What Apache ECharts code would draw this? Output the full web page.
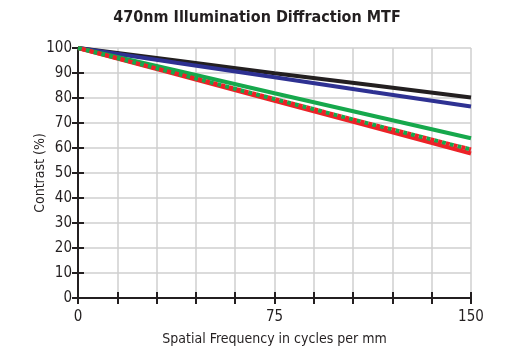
<!DOCTYPE html>
<html>
<head>
<meta charset="utf-8">
<script src="https://cdn.jsdelivr.net/npm/echarts@6/dist/echarts.min.js"></script>
<style>
  html, body { margin: 0; padding: 0; background: #fff; }
  #chart { width: 514px; height: 354px; }
</style>
</head>
<body>
<div id="chart"></div>
<script>
// spatial frequency samples (cycles per mm)
var freqs = [0, 37.5, 75, 112.5, 150];
// contrast values (%)
var blackLine = [100, 95, 89.9, 85.1, 80.2];
var blueLine = [100, 94.1, 88.3, 82.4, 76.6];
var greenLine = [100, 91, 81.9, 72.9, 63.9];
var redLine = [100, 89.5, 78.9, 68.4, 57.8];
var redDotted = [100, 89.8, 79.6, 69.4, 59.4];
var greenDotted = [100, 89.8, 79.6, 69.4, 59.4];
var xTickLabels = [0, 75, 150];

var font = "'DejaVu Sans Condensed', 'Liberation Sans Narrow', sans-serif";

function pairs(vals) {
  return freqs.map(function (f, i) { return [f, vals[i]]; });
}

(function(){
  var chartDom = document.getElementById('chart');
  var myChart = echarts.init(chartDom);
  var option;

  function lineSeries(name, vals, color, dash, offset) {
    return {
      name: name,
      type: 'line',
      data: pairs(vals),
      showSymbol: false,
      symbol: 'none',
      animation: false,
      lineStyle: {
        color: color,
        width: 4,
        type: dash || 'solid',
        dashOffset: offset || 0
      }
    };
  }

  option = {
    animation: false,
    title: {
      text: '470nm Illumination Diffraction MTF',
      left: 'center',
      top: 5,
      textStyle: {
        fontFamily: font,
        fontSize: 16,
        fontWeight: 'bold',
        color: '#231f20'
      }
    },
    grid: {
      left: 78,
      right: 43,
      top: 48,
      bottom: 56
    },
    xAxis: [
      {
        type: 'value',
        min: 0,
        max: 150,
        interval: 15,
        name: 'Spatial Frequency in cycles per mm',
        nameLocation: 'middle',
        nameGap: 34,
        nameMoveOverlap: false,
        nameTextStyle: { fontFamily: font, fontSize: 14, color: '#231f20' },
        axisLine: { show: true, lineStyle: { color: '#231f20', width: 2 } },
        axisTick: { show: true, inside: true, length: 6, lineStyle: { color: '#231f20', width: 2 } },
        axisLabel: {
          fontFamily: font,
          fontSize: 15,
          color: '#231f20',
          margin: 12,
          formatter: function (v) {
            return xTickLabels.indexOf(v) >= 0 ? String(v) : '';
          }
        },
        splitLine: { show: true, lineStyle: { color: '#cfcfcf', width: 1.5 } }
      },
      {
        type: 'value',
        position: 'top',
        min: 0,
        max: 150,
        interval: 15,
        axisLine: { show: true, lineStyle: { color: '#231f20', width: 2 } },
        axisTick: { show: true, inside: true, length: 6, lineStyle: { color: '#231f20', width: 2 } },
        axisLabel: { show: false },
        splitLine: { show: false }
      }
    ],
    yAxis: [
      {
        type: 'value',
        min: 0,
        max: 100,
        interval: 10,
        name: 'Contrast (%)',
        nameLocation: 'middle',
        nameGap: 31,
        nameMoveOverlap: false,
        nameTextStyle: { fontFamily: font, fontSize: 14, color: '#231f20' },
        axisLine: { show: true, lineStyle: { color: '#231f20', width: 2 } },
        axisTick: { show: true, inside: true, length: 6, lineStyle: { color: '#231f20', width: 2 } },
        axisLabel: { fontFamily: font, fontSize: 15, color: '#231f20', margin: 6 },
        splitLine: { show: true, lineStyle: { color: '#cfcfcf', width: 1.5 } }
      },
      {
        type: 'value',
        position: 'right',
        min: 0,
        max: 100,
        interval: 10,
        axisLine: { show: true, lineStyle: { color: '#231f20', width: 2 } },
        axisTick: { show: true, inside: true, length: 6, lineStyle: { color: '#231f20', width: 2 } },
        axisLabel: { show: false },
        splitLine: { show: false }
      }
    ],
    series: [
      lineSeries('black', blackLine, '#231f20'),
      lineSeries('blue', blueLine, '#2e3192'),
      lineSeries('green', greenLine, '#16a84c'),
      lineSeries('red', redLine, '#ec2227'),
      lineSeries('green dotted', greenDotted, '#16a84c', [4, 4], 0),
      lineSeries('red dotted', redDotted, '#ec2227', [4, 4], 4)
    ]
  };

  option && myChart.setOption(option);
})();
</script>
</body>
</html>
